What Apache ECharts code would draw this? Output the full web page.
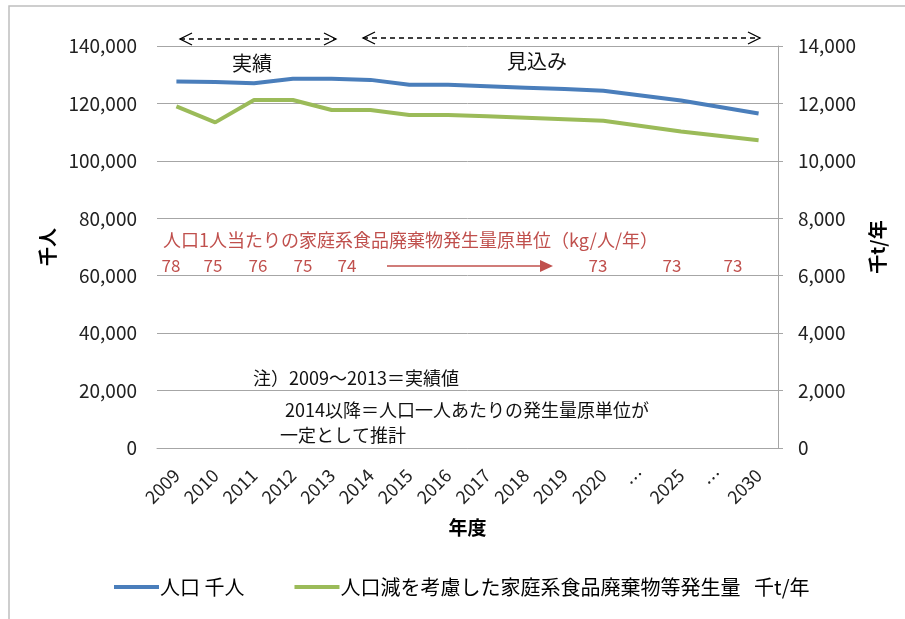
<!DOCTYPE html>
<html>
<head>
<meta charset="utf-8">
<script src="https://cdn.jsdelivr.net/npm/echarts@6/dist/echarts.min.js"></script>
<style>
  html, body { margin: 0; padding: 0; background: #fff; }
  #chart { width: 905px; height: 619px; }
</style>
</head>
<body>
<div id="chart"></div>
<script>
// 年度（… は省略部分）
const years = ['2009', '2010', '2011', '2012', '2013', '2014', '2015', '2016',
  '2017', '2018', '2019', '2020', '…', '2025', '…', '2030']
// 人口 千人
const population = [127600, 127500, 127000, 128600, 128600, 128200, 126500, 126500,
  126000, 125500, 125000, 124400, null, 121000, null, 116500]
// 人口減を考慮した家庭系食品廃棄物等発生量 千t/年
const foodWaste = [11900, 11340, 12120, 12120, 11770, 11770, 11600, 11600,
  11550, 11500, 11450, 11400, null, 11020, null, 10720]
// 人口1人当たりの原単位（kg/人/年）
const unitValues = ['78', '75', '76', '75', '74', '73', '73', '73']
const unitX = [171, 213, 258, 303, 347, 598, 672, 733]

const FONT = '"Noto Sans CJK JP", "Noto Sans", sans-serif'
const RED = '#c0504d'

const chart = echarts.init(document.getElementById('chart'))

const unitTexts = unitValues.map((v, i) => ({
  type: 'text',
  x: unitX[i],
  y: 266,
  style: { text: v, fill: RED, font: '17px ' + FONT, align: 'center', verticalAlign: 'middle' }
}))

function dashedArrow (x1, x2, y) {
  const s = { stroke: '#000', lineWidth: 1.3, fill: null }
  return [
    { type: 'line', shape: { x1: x1, y1: y, x2: x2, y2: y }, style: { stroke: '#000', lineWidth: 1.3, lineDash: [5, 4] } },
    { type: 'polyline', shape: { points: [[x1 + 12, y - 6], [x1, y], [x1 + 12, y + 6]] }, style: s },
    { type: 'polyline', shape: { points: [[x2 - 12, y - 6], [x2, y], [x2 - 12, y + 6]] }, style: s }
  ]
}

chart.setOption({
  animation: false,
  textStyle: { fontFamily: FONT },
  grid: { left: 157, right: 127, top: 46, bottom: 171 },
  legend: {
    left: 109,
    top: 572,
    itemWidth: 45,
    itemHeight: 4,
    itemGap: 50,
    icon: 'rect',
    textStyle: { fontSize: 20, color: '#000', padding: [0, 0, 0, -4] },
    data: ['人口 千人', '人口減を考慮した家庭系食品廃棄物等発生量   千t/年']
  },
  xAxis: {
    type: 'category',
    data: years,
    boundaryGap: true,
    name: '年度',
    nameLocation: 'middle',
    nameGap: 70,
    nameTextStyle: { fontSize: 19, fontWeight: 'bold', color: '#000' },
    axisLine: { lineStyle: { color: '#a6a6a6' } },
    axisTick: { show: false },
    axisLabel: { rotate: 45, interval: 0, fontSize: 18, color: '#222', margin: 24, hideOverlap: false }
  },
  yAxis: [
    {
      type: 'value',
      min: 0,
      max: 140000,
      interval: 20000,
      name: '千人',
      nameLocation: 'middle',
      nameRotate: 90,
      nameGap: 100,
      nameTextStyle: { fontSize: 19, fontWeight: 'bold', color: '#000' },
      axisLine: { show: false },
      axisTick: { show: false },
      axisLabel: { fontSize: 19, color: '#222', margin: 20 },
      splitLine: { lineStyle: { color: '#a6a6a6' } }
    },
    {
      type: 'value',
      min: 0,
      max: 14000,
      interval: 2000,
      position: 'right',
      name: '千t/年',
      nameLocation: 'middle',
      nameRotate: 90,
      nameGap: 90,
      nameTextStyle: { fontSize: 19, fontWeight: 'bold', color: '#000' },
      axisLine: { show: true, lineStyle: { color: '#a6a6a6' } },
      axisTick: { show: true, inside: false, length: 5, lineStyle: { color: '#a6a6a6' } },
      axisLabel: { fontSize: 19, color: '#222', margin: 20 },
      splitLine: { show: false }
    }
  ],
  series: [
    {
      name: '人口 千人',
      type: 'line',
      data: population,
      yAxisIndex: 0,
      connectNulls: true,
      showSymbol: false,
      lineStyle: { width: 4, color: '#4a7ebb' },
      itemStyle: { color: '#4a7ebb' }
    },
    {
      name: '人口減を考慮した家庭系食品廃棄物等発生量   千t/年',
      type: 'line',
      data: foodWaste,
      yAxisIndex: 1,
      connectNulls: true,
      showSymbol: false,
      lineStyle: { width: 4, color: '#9bbb59' },
      itemStyle: { color: '#9bbb59' }
    }
  ],
  graphic: [
    { type: 'rect', shape: { x: 9, y: 6, width: 1000, height: 1000 }, style: { fill: null, stroke: '#bfbfbf', lineWidth: 1.5 }, silent: true },
    ...dashedArrow(180, 336, 39),
    ...dashedArrow(363, 760, 38),
    { type: 'text', x: 252, y: 63, style: { text: '実績', fill: '#111', font: '20px ' + FONT, align: 'center', verticalAlign: 'middle' } },
    { type: 'text', x: 537, y: 61, style: { text: '見込み', fill: '#111', font: '20px ' + FONT, align: 'center', verticalAlign: 'middle' } },
    { type: 'text', x: 163, y: 240, style: { text: '人口1人当たりの家庭系食品廃棄物発生量原単位（kg/人/年）', fill: RED, font: '18px ' + FONT, verticalAlign: 'middle' } },
    ...unitTexts,
    { type: 'line', shape: { x1: 387, y1: 266, x2: 542, y2: 266 }, style: { stroke: RED, lineWidth: 1.5 } },
    { type: 'polygon', shape: { points: [[540, 260], [553, 266], [540, 272]] }, style: { fill: RED } },
    { type: 'text', x: 253, y: 378, style: { text: '注）2009～2013＝実績値', fill: '#111', font: '18px ' + FONT, verticalAlign: 'middle' } },
    { type: 'text', x: 285, y: 410, style: { text: '2014以降＝人口一人あたりの発生量原単位が', fill: '#111', font: '18px ' + FONT, verticalAlign: 'middle' } },
    { type: 'text', x: 280, y: 435, style: { text: '一定として推計', fill: '#111', font: '18px ' + FONT, verticalAlign: 'middle' } }
  ]
})
</script>
</body>
</html>
